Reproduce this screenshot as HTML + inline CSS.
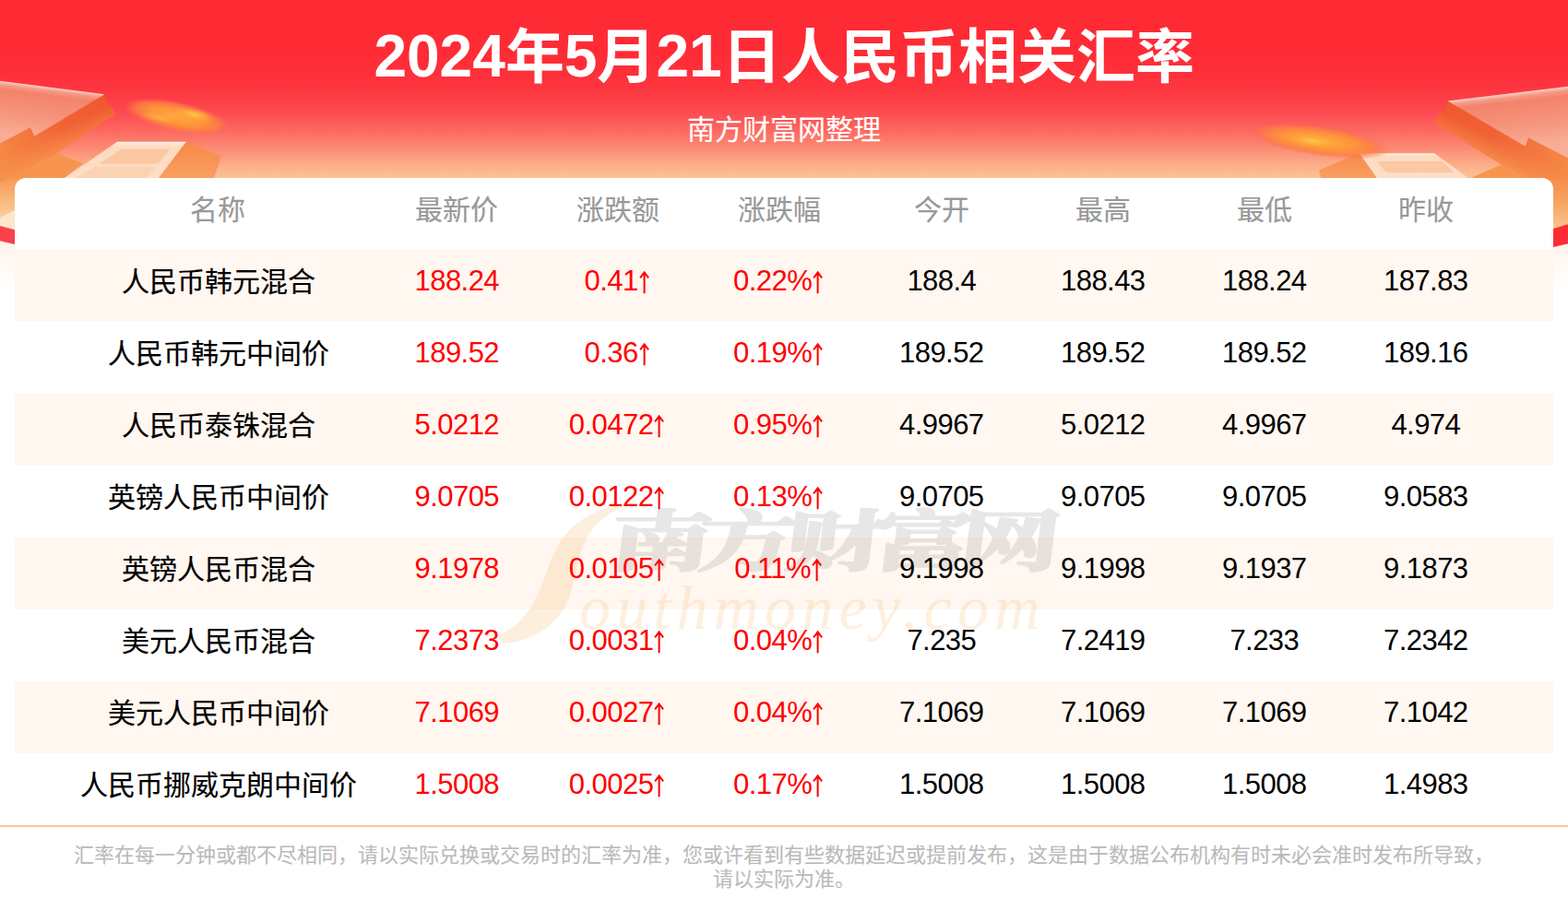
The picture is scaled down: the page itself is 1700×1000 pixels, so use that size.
<!DOCTYPE html>
<html lang="zh-CN"><head><meta charset="utf-8"><title>2024年5月21日人民币相关汇率</title>
<style>
html,body{margin:0;padding:0}
body{width:1700px;height:1000px;position:relative;overflow:hidden;background:#fff;font-family:"Liberation Sans","Noto Sans CJK SC",sans-serif}
svg.t{position:absolute;overflow:visible}
svg.t text{font-family:"Liberation Sans","Noto Sans CJK SC",sans-serif;font-size:1000px}
#hdr{position:absolute;left:0;top:0;width:1700px;height:320px;background:linear-gradient(#fe2b35 0,#fe2b35 55px,#fe303a 80px,#fd3841 100px,#fd484f 120px,#fc665f 140px,#fb8973 160px,#fbb089 180px,#fcc295 193px,#fcc295 255px,#fff 256px)}
#deco{position:absolute;left:0;top:0}
#title,#sub{margin:0;font-weight:bold}
.td{position:absolute;top:24px;font-size:64px;line-height:74px;font-weight:bold;color:#fff;white-space:nowrap}
#card{position:absolute;left:16px;top:193px;width:1668px;height:702px;background:#fff;border-radius:12px 12px 0 0}
.row{position:absolute;left:0;width:1668px;height:78px}
.row.o{background:#fff7f0}
.row svg.t,.n{z-index:2}
.n{position:absolute;top:16px;width:200px;text-align:center;font-size:31px;letter-spacing:-.56px;line-height:36px;color:#000;white-space:nowrap}
.n.up{color:#f00}
.ar{display:inline-block;vertical-align:-7px;fill:none;stroke:#f00;stroke-width:2}
#wm{position:absolute;left:514px;top:337px;z-index:1}
#ft{position:absolute;left:0;top:895px;width:1700px;height:105px;border-top:2px solid #fec68c;box-sizing:border-box}
#ft svg.t{margin-top:-2px}
</style></head>
<body>
<header id="hdr">
<svg id="deco" width="1700" height="320" viewBox="0 0 1700 320">
<defs>
<linearGradient id="gBandL" gradientUnits="userSpaceOnUse" x1="120" y1="112" x2="0" y2="175"><stop offset="0" stop-color="#f0582f"/><stop offset=".4" stop-color="#f16135"/><stop offset="1" stop-color="#f68a46"/></linearGradient>
<linearGradient id="gBandR" gradientUnits="userSpaceOnUse" x1="1560" y1="120" x2="1700" y2="186"><stop offset="0" stop-color="#f0582f"/><stop offset=".4" stop-color="#f16135"/><stop offset="1" stop-color="#f68a46"/></linearGradient>
<linearGradient id="gFadeL" gradientUnits="userSpaceOnUse" x1="60" y1="127" x2="80" y2="170"><stop offset="0" stop-color="#f58a4a" stop-opacity="0"/><stop offset=".28" stop-color="#f58a4a" stop-opacity="0"/><stop offset=".85" stop-color="#f79550" stop-opacity=".9"/><stop offset="1" stop-color="#f79550" stop-opacity=".95"/></linearGradient>
<linearGradient id="gFadeR" gradientUnits="userSpaceOnUse" x1="1640" y1="143" x2="1620" y2="186"><stop offset="0" stop-color="#f58a4a" stop-opacity="0"/><stop offset=".28" stop-color="#f58a4a" stop-opacity="0"/><stop offset=".85" stop-color="#f79550" stop-opacity=".9"/><stop offset="1" stop-color="#f79550" stop-opacity=".95"/></linearGradient>
<linearGradient id="gTopL" gradientUnits="userSpaceOnUse" x1="50" y1="94" x2="43" y2="150"><stop offset="0" stop-color="#fbd3c8"/><stop offset=".07" stop-color="#f69a86"/><stop offset=".16" stop-color="#f3836b"/><stop offset=".6" stop-color="#f6957d"/><stop offset="1" stop-color="#f9ad95"/></linearGradient>
<linearGradient id="gTopR" gradientUnits="userSpaceOnUse" x1="1640" y1="101" x2="1647" y2="160"><stop offset="0" stop-color="#fbd3c8"/><stop offset=".07" stop-color="#f69a86"/><stop offset=".16" stop-color="#f3836b"/><stop offset=".6" stop-color="#f6957d"/><stop offset="1" stop-color="#f9ad95"/></linearGradient>
<linearGradient id="gBox" x1="0" y1="0" x2="0" y2="1"><stop offset="0" stop-color="#fff0e5"/><stop offset=".14" stop-color="#fcdac0"/><stop offset="1" stop-color="#fddfc8"/></linearGradient>
<linearGradient id="gBoxS" x1="0" y1="0" x2="0" y2="1"><stop offset="0" stop-color="#f68848"/><stop offset="1" stop-color="#f99f62"/></linearGradient>
<radialGradient id="gGlow"><stop offset="0" stop-color="#ffa83c" stop-opacity="1"/><stop offset=".5" stop-color="#fe9638" stop-opacity=".97"/><stop offset=".78" stop-color="#fd7f44" stop-opacity=".8"/><stop offset="1" stop-color="#fd6650" stop-opacity="0"/></radialGradient>
<radialGradient id="gSpot"><stop offset="0" stop-color="#ffc94a" stop-opacity=".95"/><stop offset=".5" stop-color="#ffb53e" stop-opacity=".6"/><stop offset="1" stop-color="#ffa83c" stop-opacity="0"/></radialGradient>
<linearGradient id="gMarL" gradientUnits="userSpaceOnUse" x1="0" y1="190" x2="0" y2="246"><stop offset="0" stop-color="#f79650"/><stop offset=".6" stop-color="#fac088"/><stop offset="1" stop-color="#fddcb8"/></linearGradient>
<linearGradient id="gMarR" gradientUnits="userSpaceOnUse" x1="0" y1="190" x2="0" y2="250"><stop offset="0" stop-color="#f48a48"/><stop offset=".5" stop-color="#f7a562"/><stop offset="1" stop-color="#fbc690"/></linearGradient>
<linearGradient id="gFade" gradientUnits="userSpaceOnUse" x1="0" y1="262" x2="0" y2="310"><stop offset="0" stop-color="#fff3ea"/><stop offset="1" stop-color="#fff"/></linearGradient>
</defs>
<!-- side margins beside the card -->
<rect x="0" y="192" width="32" height="60" fill="url(#gMarL)"/>
<rect x="1668" y="192" width="32" height="60" fill="url(#gMarR)"/>
<rect x="0" y="255" width="16" height="65" fill="url(#gFade)"/>
<rect x="1684" y="255" width="16" height="65" fill="url(#gFade)"/>
<polygon points="0,236 16,228 16,250 0,246" fill="#fde6cc"/>
<polygon points="0,245 16,249.2 16,265 0,261.3" fill="#f9414a"/>
<polygon points="1684,248 1700,243.2 1700,264.3 1684,268" fill="#fc2c35"/>
<!-- left arrow -->
<polygon points="61,166 90,177 70,193 0,193 0,180" fill="#f7954f"/>
<polygon points="113.4,102.2 115,109 126,123.2 61,166 0,198 0,150" fill="url(#gBandL)"/>
<polygon points="113.4,102.2 126,123.2 61,166 0,198 0,150" fill="url(#gFadeL)"/>
<polygon points="0,87.8 113.4,102.2 37.2,147.8 33,138.2 0,155.6" fill="url(#gTopL)"/>
<!-- left box -->
<polygon points="127.2,153.8 202,153.8 172,193 70,193" fill="url(#gBox)"/>
<polygon points="131.5,161.8 184,161.8 171.8,177.4 108,177.4" fill="#fbc8a1"/><polygon points="102.5,180.8 169,180.8 158,193 82,193" fill="#fcd3b2"/>
<polygon points="202,153.8 240,169 232,193 172,193" fill="url(#gBoxS)"/>
<!-- left glow -->
<g transform="translate(192 126.5) rotate(12)"><ellipse rx="59" ry="16.5" fill="url(#gGlow)"/><ellipse cx="18" cy="-6" rx="22" ry="6.5" fill="url(#gSpot)"/><ellipse cx="-20" cy="5" rx="20" ry="5" fill="url(#gSpot)" opacity=".6"/></g>
<!-- right arrow -->
<polygon points="1627.7,178.6 1594.8,193 1700,193 1700,186" fill="#f7954f"/>
<polygon points="1700,100 1569.5,109.5 1567,117 1555,132.7 1627.7,178.6 1658,193 1700,193" fill="url(#gBandR)"/>
<polygon points="1700,100 1569.5,109.5 1555,132.7 1627.7,178.6 1658,193 1700,193" fill="url(#gFadeR)"/>
<polygon points="1569.5,109.5 1700,93.7 1700,171.5 1657,149.2 1653.7,158.8" fill="url(#gTopR)"/>
<!-- right box -->
<polygon points="1473.6,166.2 1555.2,166.2 1592,193 1492.7,193" fill="url(#gBox)"/>
<polygon points="1492.6,175.1 1564,175.1 1576.5,186.9 1502.7,186.9" fill="#fbc8a1"/>
<polygon points="1473.6,166.2 1492.7,193 1432,193 1430,184.5" fill="url(#gBoxS)"/>
<!-- right glow -->
<g transform="translate(1431 153) rotate(8)"><ellipse rx="77" ry="16.5" fill="url(#gGlow)"/><ellipse cx="-8" cy="1" rx="30" ry="7" fill="url(#gSpot)"/></g>
</svg>
<h1 id="title" aria-label="2024年5月21日人民币相关汇率"><span class="td" style="left:405.42px">2024</span><svg class="t" role="img" aria-label="年" style="left:547.8px;top:27.68px;fill:#fff" width="64" height="64" viewBox="0 0 1000 1000"><text x="0" y="880" font-weight="bold">年</text></svg><span class="td" style="left:611.8px">5</span><svg class="t" role="img" aria-label="月" style="left:647.39px;top:27.68px;fill:#fff" width="64" height="64" viewBox="0 0 1000 1000"><text x="0" y="880" font-weight="bold">月</text></svg><span class="td" style="left:711.39px">21</span><svg class="t" role="img" aria-label="日人民币相关汇率" style="left:782.58px;top:27.68px;fill:#fff" width="512" height="64" viewBox="0 0 8000 1000"><text x="0" y="880" font-weight="bold">日人民币相关汇率</text></svg></h1>
<p id="sub"><svg class="t" role="img" aria-label="南方财富网整理" style="left:745px;top:125.4px;fill:#fff;stroke:#fff;stroke-width:5" width="210" height="30" viewBox="0 0 7000 1000"><text x="0" y="880" font-weight="normal">南方财富网整理</text></svg></p>
</header>
<main id="card" role="table" aria-label="人民币相关汇率">
<div class="row hd" role="row" style="top:0"><svg class="t" role="columnheader" aria-label="名称" style="left:190px;top:18.9px;fill:#999;stroke:#999;stroke-width:5" width="60" height="30" viewBox="0 0 2000 1000"><text x="0" y="880">名称</text></svg><svg class="t" role="columnheader" aria-label="最新价" style="left:434px;top:18.9px;fill:#999;stroke:#999;stroke-width:5" width="90" height="30" viewBox="0 0 3000 1000"><text x="0" y="880">最新价</text></svg><svg class="t" role="columnheader" aria-label="涨跌额" style="left:609px;top:18.9px;fill:#999;stroke:#999;stroke-width:5" width="90" height="30" viewBox="0 0 3000 1000"><text x="0" y="880">涨跌额</text></svg><svg class="t" role="columnheader" aria-label="涨跌幅" style="left:784px;top:18.9px;fill:#999;stroke:#999;stroke-width:5" width="90" height="30" viewBox="0 0 3000 1000"><text x="0" y="880">涨跌幅</text></svg><svg class="t" role="columnheader" aria-label="今开" style="left:974.8px;top:18.9px;fill:#999;stroke:#999;stroke-width:5" width="60" height="30" viewBox="0 0 2000 1000"><text x="0" y="880">今开</text></svg><svg class="t" role="columnheader" aria-label="最高" style="left:1149.8px;top:18.9px;fill:#999;stroke:#999;stroke-width:5" width="60" height="30" viewBox="0 0 2000 1000"><text x="0" y="880">最高</text></svg><svg class="t" role="columnheader" aria-label="最低" style="left:1324.8px;top:18.9px;fill:#999;stroke:#999;stroke-width:5" width="60" height="30" viewBox="0 0 2000 1000"><text x="0" y="880">最低</text></svg><svg class="t" role="columnheader" aria-label="昨收" style="left:1499.8px;top:18.9px;fill:#999;stroke:#999;stroke-width:5" width="60" height="30" viewBox="0 0 2000 1000"><text x="0" y="880">昨收</text></svg></div>
<div class="row o" role="row" style="top:78px"><svg class="t" role="rowheader" aria-label="人民币韩元混合" style="left:115.5px;top:18.6px;fill:#000;stroke:#000;stroke-width:5" width="210" height="30" viewBox="0 0 7000 1000"><text x="0" y="880">人民币韩元混合</text></svg><span class="n up" role="cell" style="left:379.3px">188.24</span><span class="n up" role="cell" style="left:553.6px">0.41<svg class="ar" role="img" aria-label="↑" width="14" height="30" viewBox="0 0 14 30"><path d="M6.6 3.4V26.2M2.1 9.4L6.6 3.5L11.1 9.4"/></svg></span><span class="n up" role="cell" style="left:728.6px">0.22%<svg class="ar" role="img" aria-label="↑" width="14" height="30" viewBox="0 0 14 30"><path d="M6.6 3.4V26.2M2.1 9.4L6.6 3.5L11.1 9.4"/></svg></span><span class="n" role="cell" style="left:904.8px">188.4</span><span class="n" role="cell" style="left:1079.8px">188.43</span><span class="n" role="cell" style="left:1254.8px">188.24</span><span class="n" role="cell" style="left:1429.8px">187.83</span></div>
<div class="row" role="row" style="top:156px"><svg class="t" role="rowheader" aria-label="人民币韩元中间价" style="left:100.5px;top:18.6px;fill:#000;stroke:#000;stroke-width:5" width="240" height="30" viewBox="0 0 8000 1000"><text x="0" y="880">人民币韩元中间价</text></svg><span class="n up" role="cell" style="left:379.3px">189.52</span><span class="n up" role="cell" style="left:553.6px">0.36<svg class="ar" role="img" aria-label="↑" width="14" height="30" viewBox="0 0 14 30"><path d="M6.6 3.4V26.2M2.1 9.4L6.6 3.5L11.1 9.4"/></svg></span><span class="n up" role="cell" style="left:728.6px">0.19%<svg class="ar" role="img" aria-label="↑" width="14" height="30" viewBox="0 0 14 30"><path d="M6.6 3.4V26.2M2.1 9.4L6.6 3.5L11.1 9.4"/></svg></span><span class="n" role="cell" style="left:904.8px">189.52</span><span class="n" role="cell" style="left:1079.8px">189.52</span><span class="n" role="cell" style="left:1254.8px">189.52</span><span class="n" role="cell" style="left:1429.8px">189.16</span></div>
<div class="row o" role="row" style="top:234px"><svg class="t" role="rowheader" aria-label="人民币泰铢混合" style="left:115.5px;top:18.6px;fill:#000;stroke:#000;stroke-width:5" width="210" height="30" viewBox="0 0 7000 1000"><text x="0" y="880">人民币泰铢混合</text></svg><span class="n up" role="cell" style="left:379.3px">5.0212</span><span class="n up" role="cell" style="left:553.6px">0.0472<svg class="ar" role="img" aria-label="↑" width="14" height="30" viewBox="0 0 14 30"><path d="M6.6 3.4V26.2M2.1 9.4L6.6 3.5L11.1 9.4"/></svg></span><span class="n up" role="cell" style="left:728.6px">0.95%<svg class="ar" role="img" aria-label="↑" width="14" height="30" viewBox="0 0 14 30"><path d="M6.6 3.4V26.2M2.1 9.4L6.6 3.5L11.1 9.4"/></svg></span><span class="n" role="cell" style="left:904.8px">4.9967</span><span class="n" role="cell" style="left:1079.8px">5.0212</span><span class="n" role="cell" style="left:1254.8px">4.9967</span><span class="n" role="cell" style="left:1429.8px">4.974</span></div>
<div class="row" role="row" style="top:312px"><svg class="t" role="rowheader" aria-label="英镑人民币中间价" style="left:100.5px;top:18.6px;fill:#000;stroke:#000;stroke-width:5" width="240" height="30" viewBox="0 0 8000 1000"><text x="0" y="880">英镑人民币中间价</text></svg><span class="n up" role="cell" style="left:379.3px">9.0705</span><span class="n up" role="cell" style="left:553.6px">0.0122<svg class="ar" role="img" aria-label="↑" width="14" height="30" viewBox="0 0 14 30"><path d="M6.6 3.4V26.2M2.1 9.4L6.6 3.5L11.1 9.4"/></svg></span><span class="n up" role="cell" style="left:728.6px">0.13%<svg class="ar" role="img" aria-label="↑" width="14" height="30" viewBox="0 0 14 30"><path d="M6.6 3.4V26.2M2.1 9.4L6.6 3.5L11.1 9.4"/></svg></span><span class="n" role="cell" style="left:904.8px">9.0705</span><span class="n" role="cell" style="left:1079.8px">9.0705</span><span class="n" role="cell" style="left:1254.8px">9.0705</span><span class="n" role="cell" style="left:1429.8px">9.0583</span></div>
<div class="row o" role="row" style="top:390px"><svg class="t" role="rowheader" aria-label="英镑人民币混合" style="left:115.5px;top:18.6px;fill:#000;stroke:#000;stroke-width:5" width="210" height="30" viewBox="0 0 7000 1000"><text x="0" y="880">英镑人民币混合</text></svg><span class="n up" role="cell" style="left:379.3px">9.1978</span><span class="n up" role="cell" style="left:553.6px">0.0105<svg class="ar" role="img" aria-label="↑" width="14" height="30" viewBox="0 0 14 30"><path d="M6.6 3.4V26.2M2.1 9.4L6.6 3.5L11.1 9.4"/></svg></span><span class="n up" role="cell" style="left:728.6px">0.11%<svg class="ar" role="img" aria-label="↑" width="14" height="30" viewBox="0 0 14 30"><path d="M6.6 3.4V26.2M2.1 9.4L6.6 3.5L11.1 9.4"/></svg></span><span class="n" role="cell" style="left:904.8px">9.1998</span><span class="n" role="cell" style="left:1079.8px">9.1998</span><span class="n" role="cell" style="left:1254.8px">9.1937</span><span class="n" role="cell" style="left:1429.8px">9.1873</span></div>
<div class="row" role="row" style="top:468px"><svg class="t" role="rowheader" aria-label="美元人民币混合" style="left:115.5px;top:18.6px;fill:#000;stroke:#000;stroke-width:5" width="210" height="30" viewBox="0 0 7000 1000"><text x="0" y="880">美元人民币混合</text></svg><span class="n up" role="cell" style="left:379.3px">7.2373</span><span class="n up" role="cell" style="left:553.6px">0.0031<svg class="ar" role="img" aria-label="↑" width="14" height="30" viewBox="0 0 14 30"><path d="M6.6 3.4V26.2M2.1 9.4L6.6 3.5L11.1 9.4"/></svg></span><span class="n up" role="cell" style="left:728.6px">0.04%<svg class="ar" role="img" aria-label="↑" width="14" height="30" viewBox="0 0 14 30"><path d="M6.6 3.4V26.2M2.1 9.4L6.6 3.5L11.1 9.4"/></svg></span><span class="n" role="cell" style="left:904.8px">7.235</span><span class="n" role="cell" style="left:1079.8px">7.2419</span><span class="n" role="cell" style="left:1254.8px">7.233</span><span class="n" role="cell" style="left:1429.8px">7.2342</span></div>
<div class="row o" role="row" style="top:546px"><svg class="t" role="rowheader" aria-label="美元人民币中间价" style="left:100.5px;top:18.6px;fill:#000;stroke:#000;stroke-width:5" width="240" height="30" viewBox="0 0 8000 1000"><text x="0" y="880">美元人民币中间价</text></svg><span class="n up" role="cell" style="left:379.3px">7.1069</span><span class="n up" role="cell" style="left:553.6px">0.0027<svg class="ar" role="img" aria-label="↑" width="14" height="30" viewBox="0 0 14 30"><path d="M6.6 3.4V26.2M2.1 9.4L6.6 3.5L11.1 9.4"/></svg></span><span class="n up" role="cell" style="left:728.6px">0.04%<svg class="ar" role="img" aria-label="↑" width="14" height="30" viewBox="0 0 14 30"><path d="M6.6 3.4V26.2M2.1 9.4L6.6 3.5L11.1 9.4"/></svg></span><span class="n" role="cell" style="left:904.8px">7.1069</span><span class="n" role="cell" style="left:1079.8px">7.1069</span><span class="n" role="cell" style="left:1254.8px">7.1069</span><span class="n" role="cell" style="left:1429.8px">7.1042</span></div>
<div class="row" role="row" style="top:624px"><svg class="t" role="rowheader" aria-label="人民币挪威克朗中间价" style="left:70.5px;top:18.6px;fill:#000;stroke:#000;stroke-width:5" width="300" height="30" viewBox="0 0 10000 1000"><text x="0" y="880">人民币挪威克朗中间价</text></svg><span class="n up" role="cell" style="left:379.3px">1.5008</span><span class="n up" role="cell" style="left:553.6px">0.0025<svg class="ar" role="img" aria-label="↑" width="14" height="30" viewBox="0 0 14 30"><path d="M6.6 3.4V26.2M2.1 9.4L6.6 3.5L11.1 9.4"/></svg></span><span class="n up" role="cell" style="left:728.6px">0.17%<svg class="ar" role="img" aria-label="↑" width="14" height="30" viewBox="0 0 14 30"><path d="M6.6 3.4V26.2M2.1 9.4L6.6 3.5L11.1 9.4"/></svg></span><span class="n" role="cell" style="left:904.8px">1.5008</span><span class="n" role="cell" style="left:1079.8px">1.5008</span><span class="n" role="cell" style="left:1254.8px">1.5008</span><span class="n" role="cell" style="left:1429.8px">1.4983</span></div>
<svg id="wm" role="img" aria-label="南方财富网 Southmoney.com" width="640" height="190" viewBox="530 530 640 190"><path fill="#f7b45e" fill-opacity=".21" d="M692 545C652 547 622 563 606 590C591 616 589 641 573 662C563 676 552 684 538 691L546 698C577 695 601 681 614 655C626 631 623 601 641 576C653 559 671 550 692 545Z"/><g fill="#8a8a8a" stroke="#8a8a8a" stroke-width="34" stroke-linejoin="round" opacity=".2" transform="translate(667 550) skewX(-7) scale(.109 .072)"><text x="0" y="880" font-family="'Liberation Serif','Noto Serif CJK SC',serif" font-weight="bold" font-size="1000" letter-spacing="-132">南方财富网</text></g><text x="628" y="682" font-family="Liberation Serif,serif" font-style="italic" font-size="68" letter-spacing="6.2" fill="#f7b45e" fill-opacity=".2">outhmoney.com</text></svg>
</main>
<footer id="ft">
<svg class="t" role="img" aria-label="汇率在每一分钟或都不尽相同，请以实际兑换或交易时的汇率为准，您或许看到有些数据延迟或提前发布，这是由于数据公布机构有时未必会准时发布所导致，" style="left:80px;top:21.04px;fill:#bababa;stroke:#bababa;stroke-width:4.5" width="1540" height="22" viewBox="0 0 70000 1000"><text x="0" y="880">汇率在每一分钟或都不尽相同，请以实际兑换或交易时的汇率为准，您或许看到有些数据延迟或提前发布，这是由于数据公布机构有时未必会准时发布所导致，</text></svg>
<svg class="t" role="img" aria-label="请以实际为准。" style="left:773px;top:46.84px;fill:#bababa;stroke:#bababa;stroke-width:4.5" width="154" height="22" viewBox="0 0 7000 1000"><text x="0" y="880">请以实际为准。</text></svg>
</footer>
</body></html>
